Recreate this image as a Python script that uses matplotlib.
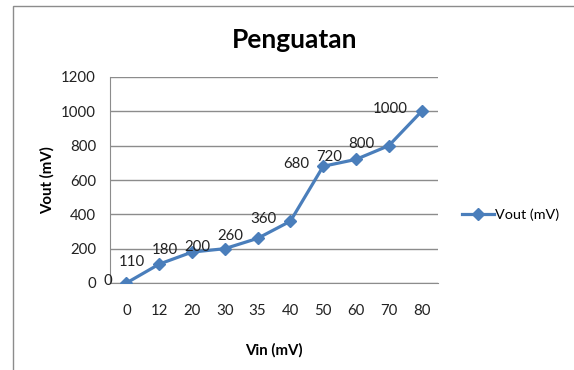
import matplotlib
matplotlib.use("Agg")
import matplotlib.pyplot as plt
from matplotlib.patches import Rectangle
from matplotlib.lines import Line2D

plt.rcParams['font.family'] = ['Lato', 'DejaVu Sans']

vin = ['0', '12', '20', '30', '35', '40', '50', '60', '70', '80']
vout = [0, 110, 180, 200, 260, 360, 680, 720, 800, 1000]
yticks = [0, 200, 400, 600, 800, 1000, 1200]

W, H = 574, 370
fig = plt.figure(figsize=(W / 100, H / 100), dpi=100)
fig.patch.set_facecolor('white')

# outer chart border (only left and top visible)
fig.patches.append(Rectangle((13 / W, -0.1), 1.2, (H - 6) / H + 0.1, transform=fig.transFigure,
                             fill=False, edgecolor='#8c8c8c', lw=1.0))

ax = fig.add_axes([110 / W, (H - 283) / H, 328 / W, 206 / H])
x = list(range(len(vin)))
color = '#4A7EBB'
ax.plot(x, vout, color=color, lw=2.3, marker='D', markersize=6.5, zorder=3)

for xi, v in zip(x, vout):
    ax.annotate(str(v), (xi, v), xytext=(-14, 2), textcoords='offset pixels',
                ha='right', va='center', fontsize=10.8, color='#222222', zorder=4)

ax.set_xlim(-0.5, len(vin) - 0.5)
ax.set_ylim(0, 1200)
ax.set_yticks(yticks)
ax.set_yticklabels([str(t) for t in yticks])
ax.set_xticks(x)
ax.set_xticklabels(vin)
ax.tick_params(axis='both', length=0, labelsize=10.8, colors='#222222')
ax.tick_params(axis='y', pad=10)
ax.tick_params(axis='x', pad=15)
ax.grid(axis='y', color='#8c8c8c', lw=1.0)
ax.set_axisbelow(True)
for s in ['top', 'right']:
    ax.spines[s].set_visible(False)
ax.spines['left'].set_color('#8c8c8c')
ax.spines['bottom'].set_color('#8c8c8c')

ax.set_ylabel('Vout (mV)', fontsize=10.8, fontweight='bold', labelpad=5)
ax.set_xlabel('Vin (mV)', fontsize=10.8, fontweight='bold', labelpad=18)
fig.text(295 / W, 1 - 40 / H, 'Penguatan', ha='center', va='center', fontsize=19, fontweight='bold')

handle = Line2D([], [], color=color, lw=2.3, marker='D', markersize=6)
leg = fig.legend([handle], ['Vout (mV)'], loc='center left', bbox_to_anchor=(449 / W, 1 - 215 / H),
                 frameon=False, fontsize=10.4, handlelength=2.2, handletextpad=0.1)

fig.savefig('out.png', dpi=100)
